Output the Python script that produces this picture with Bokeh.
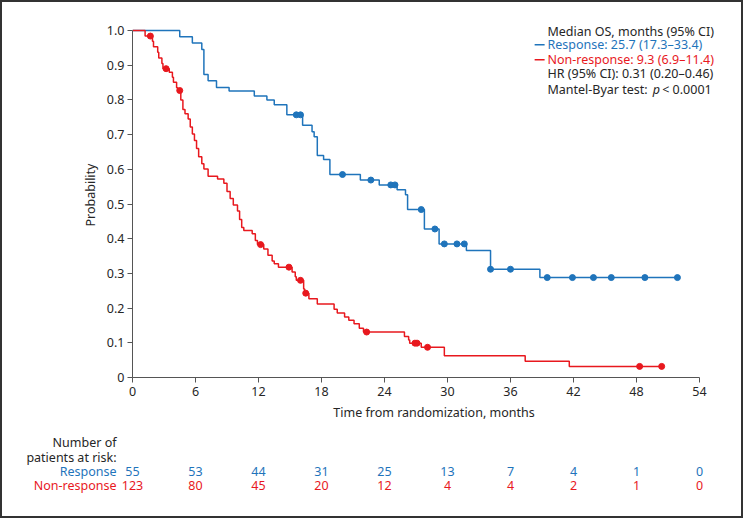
from bokeh.plotting import figure
from bokeh.layouts import column
from bokeh.models import Label, FixedTicker, Range1d
from bokeh.core.properties import value
from bokeh.embed import file_html
from bokeh.resources import INLINE

# ---------------- data ----------------
resp_time = [0, 4.5, 5.7, 6.6, 6.8, 7.2, 8.0, 9.2, 11.6, 12.8, 13.5, 14.7, 16.2, 17.1, 17.3, 17.6,
             18.2, 18.8, 21.7, 23.5, 25.2, 26.0, 26.2, 27.8, 29.2, 31.8, 34.1, 38.8, 51.9]
resp_surv = [1.0, 0.982, 0.964, 0.945, 0.873, 0.855, 0.836, 0.826, 0.811, 0.800, 0.786, 0.757, 0.727,
             0.708, 0.694, 0.640, 0.628, 0.585, 0.569, 0.555, 0.541, 0.527, 0.484, 0.428, 0.385,
             0.366, 0.312, 0.288, 0.288]
resp_cens_time = [15.6, 16.0, 20.0, 22.7, 24.6, 25.0, 27.5, 28.8, 29.7, 30.9, 31.6, 34.1, 36.0,
                  39.5, 41.9, 43.9, 45.6, 48.8, 51.9]
resp_cens_surv = [0.757, 0.757, 0.585, 0.569, 0.555, 0.555, 0.484, 0.428, 0.385, 0.385, 0.385,
                  0.312, 0.312, 0.288, 0.288, 0.288, 0.288, 0.288, 0.288]

non_time = [0, 1.2, 1.9, 2.0, 2.4, 2.5, 2.8, 2.9, 3.5, 3.8, 3.9, 4.2, 4.3, 4.6, 4.8, 5.0, 5.3, 5.5,
            5.7, 5.9, 6.1, 6.3, 6.6, 6.8, 7.2, 8.1, 8.7, 9.0, 9.3, 9.6, 10.0, 10.2, 10.4, 10.6,
            11.4, 11.7, 11.9, 12.5, 12.9, 13.3, 13.5, 13.9, 15.2, 15.5, 15.6, 16.3, 16.4, 16.8,
            17.6, 19.2, 19.5, 20.2, 20.6, 21.1, 21.6, 22.0, 25.9, 26.3, 26.4, 27.5, 29.7, 37.4,
            41.6, 50.4]
non_surv = [1.0, 0.984, 0.969, 0.953, 0.937, 0.921, 0.905, 0.890, 0.880, 0.865, 0.851, 0.835,
            0.827, 0.800, 0.772, 0.760, 0.745, 0.722, 0.702, 0.683, 0.660, 0.636, 0.616, 0.601,
            0.580, 0.572, 0.560, 0.536, 0.516, 0.497, 0.480, 0.455, 0.432, 0.424, 0.414, 0.395,
            0.383, 0.370, 0.352, 0.336, 0.328, 0.318, 0.304, 0.290, 0.280, 0.255, 0.243, 0.227,
            0.212, 0.197, 0.186, 0.174, 0.165, 0.155, 0.142, 0.131, 0.118, 0.108, 0.099, 0.087,
            0.063, 0.047, 0.032, 0.032]
non_cens_time = [1.7, 3.2, 4.5, 12.2, 14.9, 16.0, 16.5, 22.3, 26.9, 27.1, 28.1, 48.3, 50.4]
non_cens_surv = [0.984, 0.890, 0.827, 0.383, 0.318, 0.280, 0.243, 0.131, 0.099, 0.099, 0.087,
                 0.032, 0.032]

x_ticks = [0, 6, 12, 18, 24, 30, 36, 42, 48, 54]
y_ticks = [0, 0.1, 0.2, 0.3, 0.4, 0.5, 0.6, 0.7, 0.8, 0.9, 1.0]
y_tick_labels = ["0", "0.1", "0.2", "0.3", "0.4", "0.5", "0.6", "0.7", "0.8", "0.9", "1.0"]

risk_time = [0, 6, 12, 18, 24, 30, 36, 42, 48, 54]
risk_resp = [55, 53, 44, 31, 25, 13, 7, 4, 1, 0]
risk_non = [123, 80, 45, 20, 12, 4, 4, 2, 1, 0]

legend_lines = ["Median OS, months (95% CI)",
                "Response: 25.7 (17.3\u201333.4)",
                "Non-response: 9.3 (6.9\u201311.4)",
                "HR (95% CI): 0.31 (0.20\u20130.46)",
                "Mantel-Byar test: "]
risk_titles = ["Number of", "patients at risk:", "Response", "Non-response"]

# ---------------- style ----------------
BLUE = "#1f74bb"
RED = "#e8181e"
FONT = "Noto Sans"
FS = "12.5px"
TXT = "#262626"
AX = "#555555"
W = 743

p = figure(width=W, height=428, output_backend="svg", toolbar_location=None,
           x_range=Range1d(0, 57.43), y_range=Range1d(0, 1.0519),
           min_border_left=132, min_border_right=8, min_border_top=12, min_border_bottom=51)
p.frame_align = False
p.grid.visible = False
p.outline_line_color = None
p.background_fill_color = None
p.border_fill_color = None

p.xaxis.ticker = FixedTicker(ticks=x_ticks)
p.yaxis.ticker = FixedTicker(ticks=y_ticks)
p.yaxis.major_label_overrides = {t: l for t, l in zip(y_ticks, y_tick_labels)}
p.yaxis.bounds = (0, 1)
p.xaxis.bounds = (0, 54)
p.xaxis.axis_label = "Time from randomization, months"
p.yaxis.axis_label = "Probability"
for ax in (p.xaxis, p.yaxis):
    ax.axis_line_color = AX
    ax.major_tick_line_color = AX
    ax.major_tick_out = 5
    ax.major_tick_in = 0
    ax.minor_tick_out = 0
    ax.minor_tick_in = 0
    ax.major_label_text_font = FONT
    ax.major_label_text_font_size = FS
    ax.major_label_text_color = TXT
    ax.axis_label_text_font = FONT
    ax.axis_label_text_font_size = FS
    ax.axis_label_text_font_style = "normal"
    ax.axis_label_text_color = TXT
p.xaxis.major_label_standoff = 4
p.xaxis.axis_label_standoff = 5
p.yaxis.major_label_standoff = 3
p.yaxis.axis_label_standoff = 5

# curves
p.step(resp_time, resp_surv, mode="after", line_color=BLUE, line_width=1.5)
p.step(non_time, non_surv, mode="after", line_color=RED, line_width=1.5)
p.scatter(resp_cens_time, resp_cens_surv, size=6, color=BLUE)
p.scatter(non_cens_time, non_cens_surv, size=6, color=RED)

# legend
lx = 39.52
ly = [0.998, 0.959, 0.916, 0.875, 0.830]
colors = [TXT, BLUE, RED, TXT, TXT]
for text, yy, c in zip(legend_lines, ly, colors):
    p.add_layout(Label(x=lx, y=yy, text=text, text_font=FONT, text_font_size=FS,
                       text_color=c, text_baseline="middle", text_align="left"))
p.add_layout(Label(x=49.55, y=ly[4], text="p", text_font=FONT, text_font_size=FS,
                   text_font_style="italic", text_color=TXT, text_baseline="middle"))
p.add_layout(Label(x=50.45, y=ly[4], text="< 0.0001", text_font=FONT, text_font_size=FS,
                   text_color=TXT, text_baseline="middle"))
p.line([38.3, 39.25], [ly[1], ly[1]], line_color=BLUE, line_width=1.5)
p.line([38.3, 39.25], [ly[2], ly[2]], line_color=RED, line_width=1.5)

# risk table (separate strip using the same month scale: 10.5 px per month, 0 at x=132)
q = figure(width=W, height=90, output_backend="svg", toolbar_location=None,
           x_range=Range1d(-132 / 10.5, (W - 132) / 10.5), y_range=Range1d(518, 428),
           x_axis_type=None, y_axis_type=None,
           min_border_left=0, min_border_right=0, min_border_top=0, min_border_bottom=0)
q.frame_align = False
q.grid.visible = False
q.outline_line_color = None
q.background_fill_color = None
q.border_fill_color = None

rx = -1.52
row_y = [441.7, 456.7, 470.7, 485.3]
q.text(x=[rx] * 2, y=row_y[:2], text=risk_titles[:2], text_font=value(FONT),
       text_font_size=value(FS), text_color=TXT, text_align="right", text_baseline="middle")
q.text(x=[rx], y=[row_y[2]], text=[risk_titles[2]], text_font=value(FONT),
       text_font_size=value(FS), text_color=BLUE, text_align="right", text_baseline="middle")
q.text(x=[rx], y=[row_y[3]], text=[risk_titles[3]], text_font=value(FONT),
       text_font_size=value(FS), text_color=RED, text_align="right", text_baseline="middle")
q.text(x=risk_time, y=[row_y[2]] * len(risk_time), text=[str(v) for v in risk_resp],
       text_font=value(FONT), text_font_size=value(FS), text_color=BLUE,
       text_align="center", text_baseline="middle")
q.text(x=risk_time, y=[row_y[3]] * len(risk_time), text=[str(v) for v in risk_non],
       text_font=value(FONT), text_font_size=value(FS), text_color=RED,
       text_align="center", text_baseline="middle")

layout = column(p, q, spacing=0)
layout.styles = {"outline": "2px solid #333333", "outline-offset": "-2px"}

open("out.html", "w").write(file_html(layout, INLINE))
